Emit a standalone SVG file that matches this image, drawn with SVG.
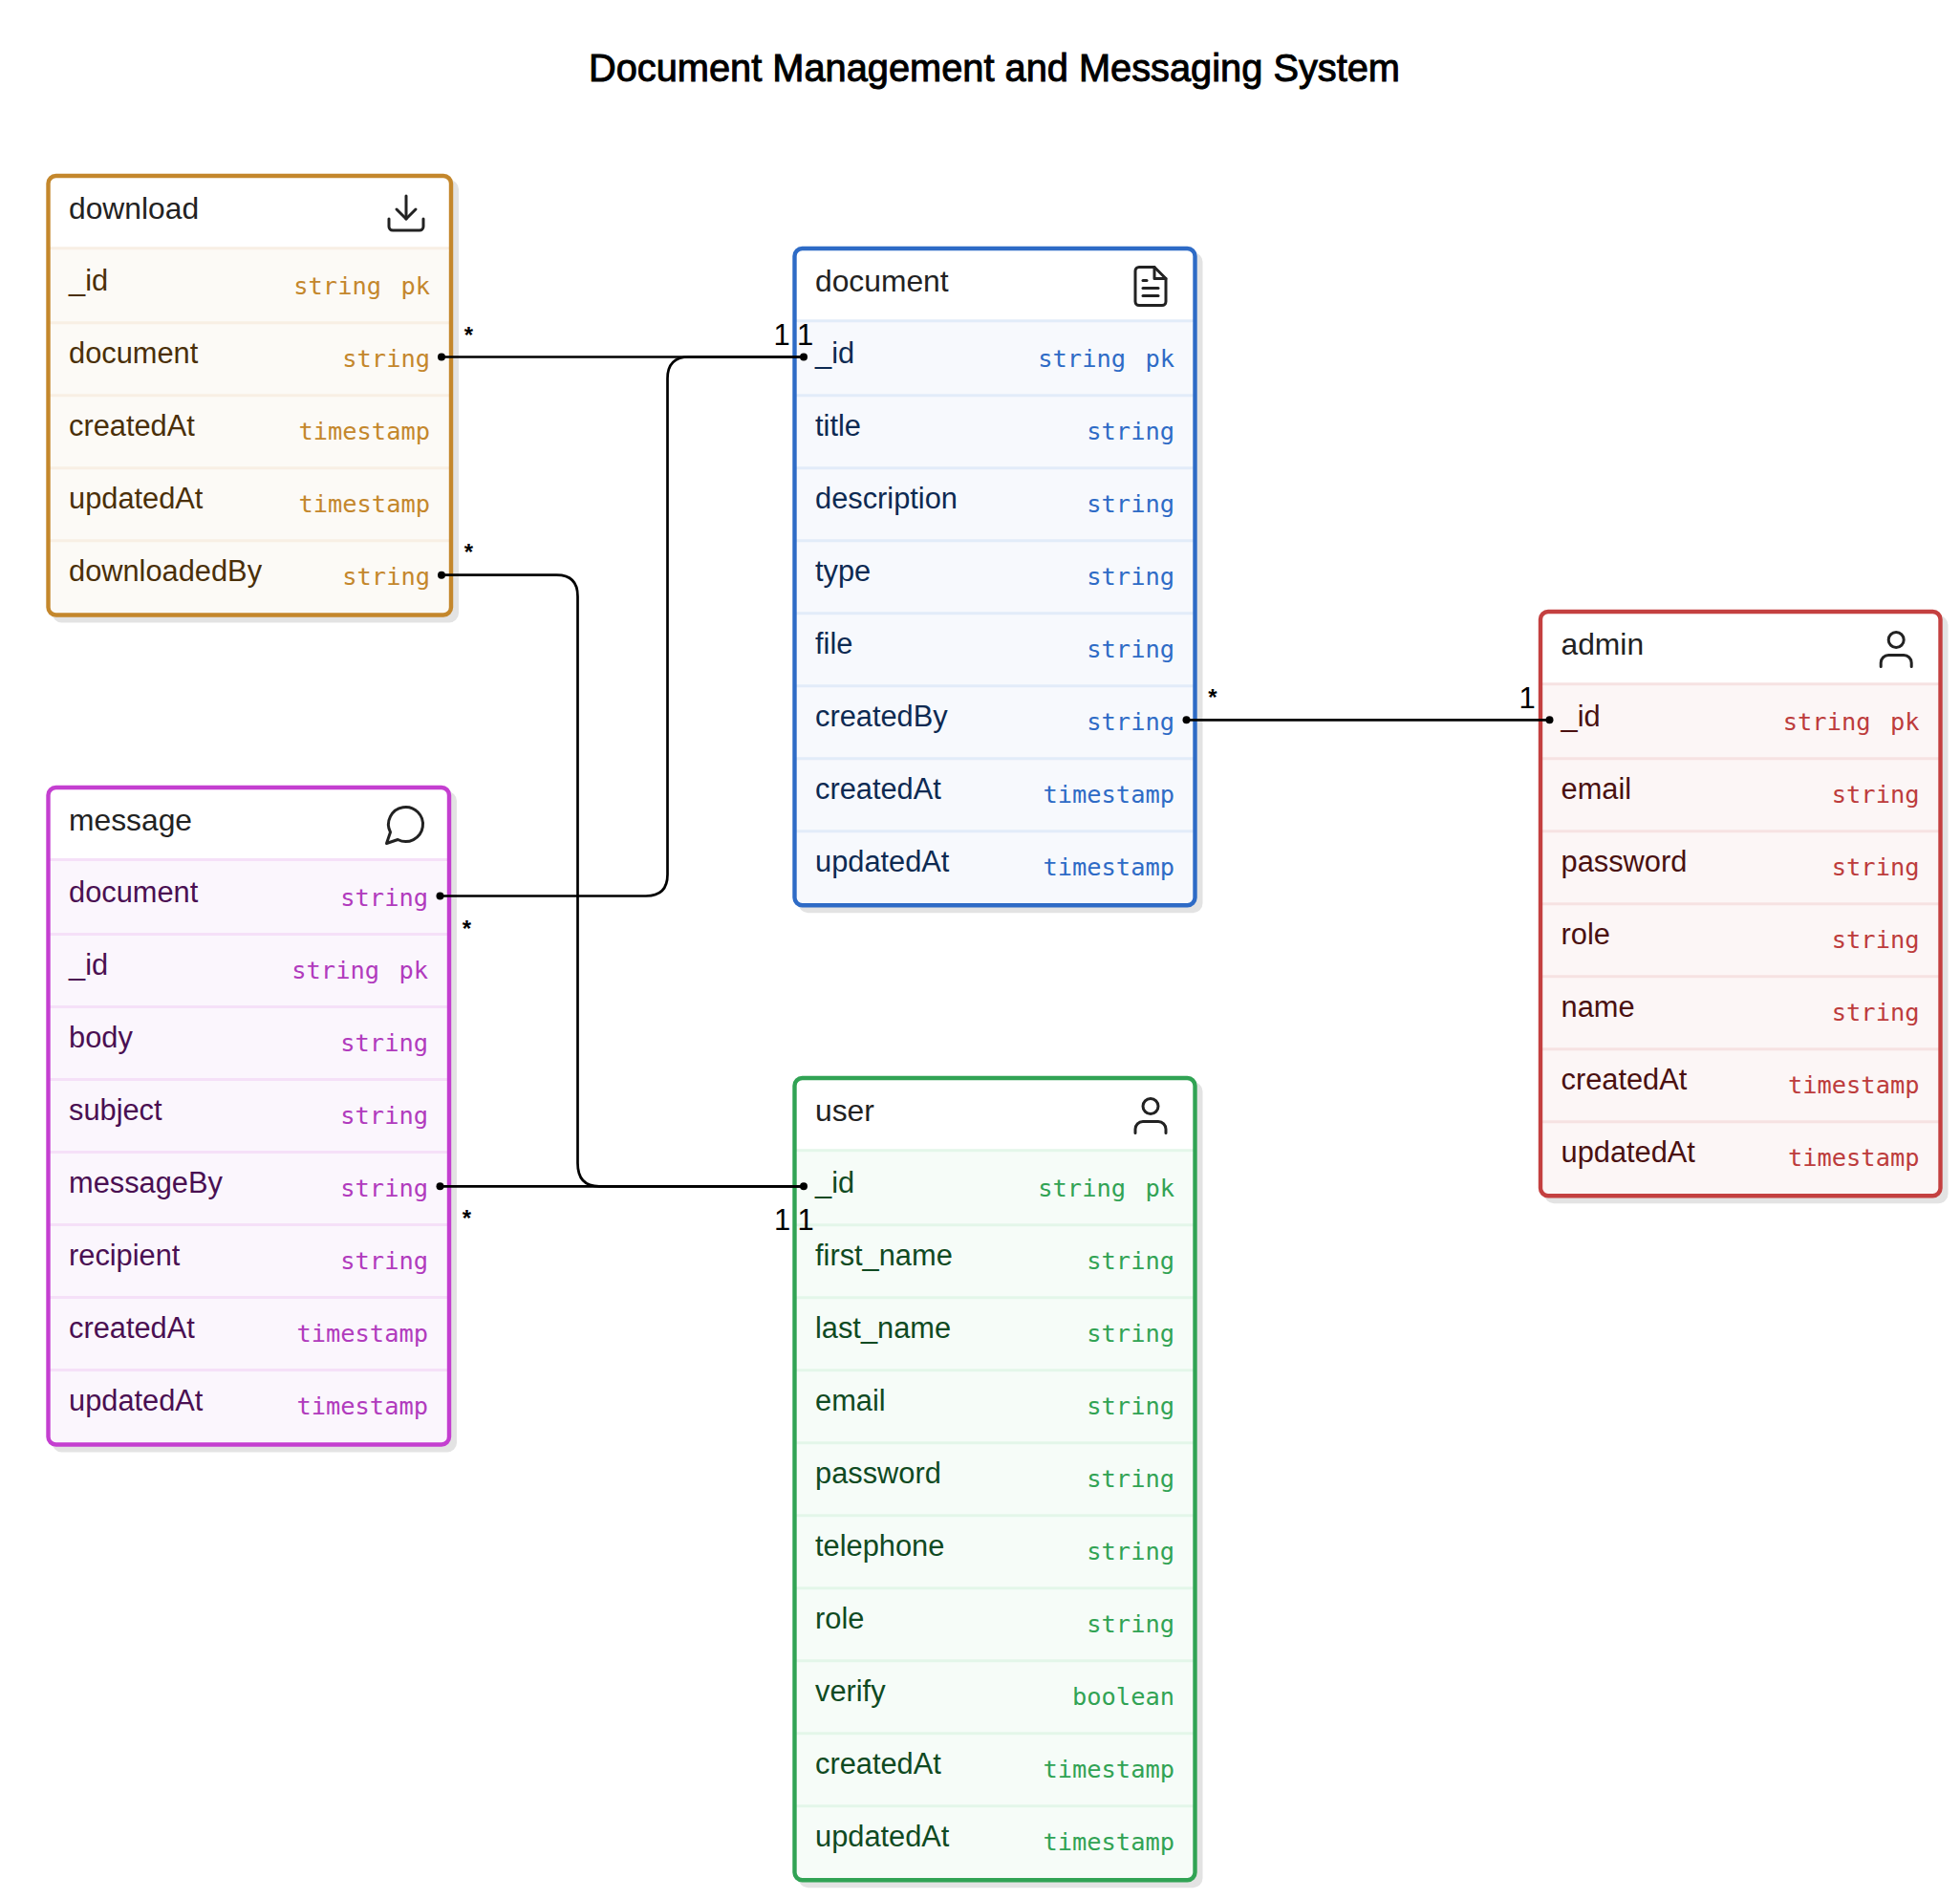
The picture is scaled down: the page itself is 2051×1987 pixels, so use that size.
<svg xmlns="http://www.w3.org/2000/svg" width="2051" height="1987" viewBox="0 0 2051 1987">
<style>
text{font-family:"Liberation Sans",Arial,sans-serif}
.title{font-size:41px;fill:#000;stroke:#000;stroke-width:1;text-anchor:middle}
.hd{font-size:31.8px;fill:#222}
.nm{font-size:30.8px}
.ty{font-family:"DejaVu Sans Mono","Liberation Mono",monospace;font-size:25.4px;text-anchor:end}
.sh{fill:#e3e3e3;stroke:#e3e3e3;stroke-width:4}
.bd{fill:none;stroke-width:4.4}
.sp{stroke-width:3;fill:none}
.ic{fill:none;stroke:#222;stroke-width:1.5;stroke-linecap:round;stroke-linejoin:round}
.c{fill:none;stroke:#000;stroke-width:2.7}
.d{fill:#000}
.st{font-size:24px;font-weight:bold;fill:#000;text-anchor:middle}
.on{font-size:31px;fill:#000;text-anchor:middle}
.dl .bd{stroke:#c4872c}.dl .bg{fill:#fcfaf6}.dl .sp{stroke:#f8efe4}.dl .nm{fill:#4a2f08}.dl .ty{fill:#c4872c}
.doc .bd{stroke:#2e6bc6}.doc .bg{fill:#f7f9fd}.doc .sp{stroke:#e2ecf9}.doc .nm{fill:#0d2a52}.doc .ty{fill:#2e6bc6}
.msg .bd{stroke:#c43fd0}.msg .bg{fill:#fbf6fd}.msg .sp{stroke:#f5e0f8}.msg .nm{fill:#4a0f52}.msg .ty{fill:#b13bbd}
.adm .bd{stroke:#c44040}.adm .bg{fill:#fcf6f6}.adm .sp{stroke:#f6e2e2}.adm .nm{fill:#4a1010}.adm .ty{fill:#bd3c3c}
.usr .bd{stroke:#31a354}.usr .bg{fill:#f6fcf8}.usr .sp{stroke:#e3f6e9}.usr .nm{fill:#0f4a22}.usr .ty{fill:#31a354}
</style>
<defs>
<g id="i-user" class="ic"><path d="M20 21v-2a4 4 0 0 0-4-4H8a4 4 0 0 0-4 4v2"/><circle cx="12" cy="7" r="4"/></g>
</defs>
<rect width="2051" height="1987" fill="#fff"/>
<text class="title" x="1040.5" y="85" textLength="849" lengthAdjust="spacingAndGlyphs">Document Management and Messaging System</text>

<g id="node-download" class="dl">
<rect class="sh" x="56.5" y="190" width="421.5" height="459.5" rx="8"/>
<rect x="50.5" y="184" width="421.5" height="459.5" rx="8" fill="#fff"/>
<rect class="bg" x="52" y="259.7" width="418" height="382" rx="6"/>
<path class="sp" d="M52 259.7H470M52 337.7H470M52 413.7H470M52 489.7H470M52 565.7H470"/>
<rect class="bd" x="50.5" y="184" width="421.5" height="459.5" rx="8"/>
<text class="hd" x="72" y="229">download</text>
<g transform="translate(401 199) scale(2)" class="ic"><path d="M21 15v4a2 2 0 0 1-2 2H5a2 2 0 0 1-2-2v-4"/><polyline points="7 10 12 15 17 10"/><line x1="12" y1="15" x2="12" y2="3"/></g>
<text class="nm" x="72" y="304">_id</text><text class="ty" x="399" y="308">string</text><text class="ty" x="450" y="308">pk</text>
<text class="nm" x="72" y="380">document</text><text class="ty" x="450" y="384">string</text>
<text class="nm" x="72" y="456">createdAt</text><text class="ty" x="450" y="460">timestamp</text>
<text class="nm" x="72" y="532">updatedAt</text><text class="ty" x="450" y="536">timestamp</text>
<text class="nm" x="72" y="608">downloadedBy</text><text class="ty" x="450" y="612">string</text>
</g>

<g id="node-message" class="msg">
<rect class="sh" x="56.5" y="830" width="419.5" height="687.5" rx="8"/>
<rect x="50.5" y="824" width="419.5" height="687.5" rx="8" fill="#fff"/>
<rect class="bg" x="52" y="899.5" width="416" height="610" rx="6"/>
<path class="sp" d="M52 899.5H468M52 977.5H468M52 1053.5H468M52 1129.5H468M52 1205.5H468M52 1281.5H468M52 1357.5H468M52 1433.5H468"/>
<rect class="bd" x="50.5" y="824" width="419.5" height="687.5" rx="8"/>
<text class="hd" x="72" y="869">message</text>
<g transform="translate(400.5 838.5) scale(2)" class="ic"><path d="M7.9 20A9 9 0 1 0 4 16.1L2 22Z"/></g>
<text class="nm" x="72" y="944">document</text><text class="ty" x="448" y="948">string</text>
<text class="nm" x="72" y="1020">_id</text><text class="ty" x="397" y="1024">string</text><text class="ty" x="448" y="1024">pk</text>
<text class="nm" x="72" y="1096">body</text><text class="ty" x="448" y="1100">string</text>
<text class="nm" x="72" y="1172">subject</text><text class="ty" x="448" y="1176">string</text>
<text class="nm" x="72" y="1248">messageBy</text><text class="ty" x="448" y="1252">string</text>
<text class="nm" x="72" y="1324">recipient</text><text class="ty" x="448" y="1328">string</text>
<text class="nm" x="72" y="1400">createdAt</text><text class="ty" x="448" y="1404">timestamp</text>
<text class="nm" x="72" y="1476">updatedAt</text><text class="ty" x="448" y="1480">timestamp</text>
</g>

<g id="node-document" class="doc">
<rect class="sh" x="837.5" y="266" width="419" height="687.2" rx="8"/>
<rect x="831.5" y="260" width="419" height="687.2" rx="8" fill="#fff"/>
<rect class="bg" x="833" y="335.7" width="416" height="610" rx="6"/>
<path class="sp" d="M833 335.7H1249M833 413.7H1249M833 489.7H1249M833 565.7H1249M833 641.7H1249M833 717.7H1249M833 793.7H1249M833 869.7H1249"/>
<rect class="bd" x="831.5" y="260" width="419" height="687.2" rx="8"/>
<text class="hd" x="853" y="305">document</text>
<g transform="translate(1180 275.5) scale(2)" class="ic"><path d="M14 2H6a2 2 0 0 0-2 2v16a2 2 0 0 0 2 2h12a2 2 0 0 0 2-2V8z"/><polyline points="14 2 14 8 20 8"/><line x1="16" y1="13" x2="8" y2="13"/><line x1="16" y1="17" x2="8" y2="17"/><polyline points="10 9 9 9 8 9"/></g>
<text class="nm" x="853" y="380">_id</text><text class="ty" x="1178" y="384">string</text><text class="ty" x="1229" y="384">pk</text>
<text class="nm" x="853" y="456">title</text><text class="ty" x="1229" y="460">string</text>
<text class="nm" x="853" y="532">description</text><text class="ty" x="1229" y="536">string</text>
<text class="nm" x="853" y="608">type</text><text class="ty" x="1229" y="612">string</text>
<text class="nm" x="853" y="684">file</text><text class="ty" x="1229" y="688">string</text>
<text class="nm" x="853" y="760">createdBy</text><text class="ty" x="1229" y="764">string</text>
<text class="nm" x="853" y="836">createdAt</text><text class="ty" x="1229" y="840">timestamp</text>
<text class="nm" x="853" y="912">updatedAt</text><text class="ty" x="1229" y="916">timestamp</text>
</g>

<g id="node-admin" class="adm">
<rect class="sh" x="1618" y="646" width="418.5" height="611.2" rx="8"/>
<rect x="1612" y="640" width="418.5" height="611.2" rx="8" fill="#fff"/>
<rect class="bg" x="1613.5" y="715.7" width="415.5" height="534" rx="6"/>
<path class="sp" d="M1613.5 715.7H2029M1613.5 793.7H2029M1613.5 869.7H2029M1613.5 945.7H2029M1613.5 1021.7H2029M1613.5 1097.7H2029M1613.5 1173.7H2029"/>
<rect class="bd" x="1612" y="640" width="418.5" height="611.2" rx="8"/>
<text class="hd" x="1633.5" y="685">admin</text>
<use href="#i-user" transform="translate(1960.2 655.5) scale(2)"/>
<text class="nm" x="1633.5" y="760">_id</text><text class="ty" x="1957.5" y="764">string</text><text class="ty" x="2008.5" y="764">pk</text>
<text class="nm" x="1633.5" y="836">email</text><text class="ty" x="2008.5" y="840">string</text>
<text class="nm" x="1633.5" y="912">password</text><text class="ty" x="2008.5" y="916">string</text>
<text class="nm" x="1633.5" y="988">role</text><text class="ty" x="2008.5" y="992">string</text>
<text class="nm" x="1633.5" y="1064">name</text><text class="ty" x="2008.5" y="1068">string</text>
<text class="nm" x="1633.5" y="1140">createdAt</text><text class="ty" x="2008.5" y="1144">timestamp</text>
<text class="nm" x="1633.5" y="1216">updatedAt</text><text class="ty" x="2008.5" y="1220">timestamp</text>
</g>

<g id="node-user" class="usr">
<rect class="sh" x="837.5" y="1134" width="419" height="839.2" rx="8"/>
<rect x="831.5" y="1128" width="419" height="839.2" rx="8" fill="#fff"/>
<rect class="bg" x="833" y="1203.7" width="416" height="762" rx="6"/>
<path class="sp" d="M833 1203.7H1249M833 1281.7H1249M833 1357.7H1249M833 1433.7H1249M833 1509.7H1249M833 1585.7H1249M833 1661.7H1249M833 1737.7H1249M833 1813.7H1249M833 1889.7H1249"/>
<rect class="bd" x="831.5" y="1128" width="419" height="839.2" rx="8"/>
<text class="hd" x="853" y="1173">user</text>
<use href="#i-user" transform="translate(1180 1143.5) scale(2)"/>
<text class="nm" x="853" y="1248">_id</text><text class="ty" x="1178" y="1252">string</text><text class="ty" x="1229" y="1252">pk</text>
<text class="nm" x="853" y="1324">first_name</text><text class="ty" x="1229" y="1328">string</text>
<text class="nm" x="853" y="1400">last_name</text><text class="ty" x="1229" y="1404">string</text>
<text class="nm" x="853" y="1476">email</text><text class="ty" x="1229" y="1480">string</text>
<text class="nm" x="853" y="1552">password</text><text class="ty" x="1229" y="1556">string</text>
<text class="nm" x="853" y="1628">telephone</text><text class="ty" x="1229" y="1632">string</text>
<text class="nm" x="853" y="1704">role</text><text class="ty" x="1229" y="1708">string</text>
<text class="nm" x="853" y="1780">verify</text><text class="ty" x="1229" y="1784">boolean</text>
<text class="nm" x="853" y="1856">createdAt</text><text class="ty" x="1229" y="1860">timestamp</text>
<text class="nm" x="853" y="1932">updatedAt</text><text class="ty" x="1229" y="1936">timestamp</text>
</g>

<g id="connectors">
<path class="c" d="M462 373.5H841"/>
<path class="c" d="M460.5 937.5H676Q698.5 937.5 698.5 915V396Q698.5 373.5 721 373.5H841"/>
<path class="c" d="M462 601.7H582.5Q604.5 601.7 604.5 624V1217Q604.5 1241.3 627 1241.3H841"/>
<path class="c" d="M460.5 1241.3H841"/>
<path class="c" d="M1241.5 753.3H1621.5"/>
<circle class="d" cx="462" cy="373.5" r="4"/><circle class="d" cx="841" cy="373.5" r="4"/>
<circle class="d" cx="460.5" cy="937.5" r="4"/>
<circle class="d" cx="462" cy="601.7" r="4"/>
<circle class="d" cx="460.5" cy="1241.3" r="4"/><circle class="d" cx="841" cy="1241.3" r="4"/>
<circle class="d" cx="1241.5" cy="753.3" r="4"/><circle class="d" cx="1621.5" cy="753.3" r="4"/>
<text class="st" x="490.5" y="358.5">*</text>
<text class="st" x="490.5" y="586">*</text>
<text class="st" x="488.5" y="979.5">*</text>
<text class="st" x="488.5" y="1283">*</text>
<text class="st" x="1269" y="737.5">*</text>
<text class="on" x="818" y="360.5">1</text><text class="on" x="842.5" y="360.5">1</text>
<text class="on" x="1598" y="740.5">1</text>
<text class="on" x="818.5" y="1286.5">1</text><text class="on" x="843" y="1286.5">1</text>
</g>
</svg>
